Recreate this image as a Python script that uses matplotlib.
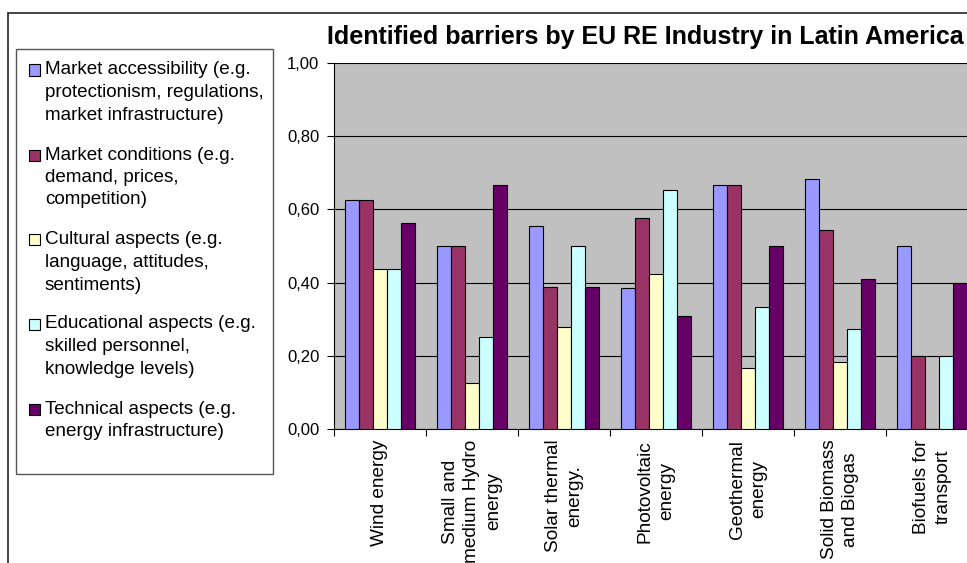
import matplotlib.pyplot as plt
from matplotlib.patches import Rectangle
import numpy as np

plt.rcParams['font.family'] = ['Liberation Sans', 'DejaVu Sans']

categories = ['Wind energy', 'Small and\nmedium Hydro\nenergy', 'Solar thermal\nenergy.',
              'Photovoltaic\nenergy', 'Geothermal\nenergy', 'Solid Biomass\nand Biogas',
              'Biofuels for\ntransport']
series_names = [
    ['Market accessibility (e.g.', 'protectionism, regulations,', 'market infrastructure)'],
    ['Market conditions (e.g.', 'demand, prices,', 'competition)'],
    ['Cultural aspects (e.g.', 'language, attitudes,', 'sentiments)'],
    ['Educational aspects (e.g.', 'skilled personnel,', 'knowledge levels)'],
    ['Technical aspects (e.g.', 'energy infrastructure)'],
]
market_access = [0.625, 0.500, 0.556, 0.385, 0.667, 0.682, 0.500]
market_cond = [0.625, 0.500, 0.389, 0.577, 0.667, 0.545, 0.200]
cultural = [0.4375, 0.125, 0.278, 0.423, 0.167, 0.182, 0.0]
educational = [0.4375, 0.250, 0.500, 0.654, 0.333, 0.273, 0.200]
technical = [0.5625, 0.667, 0.389, 0.308, 0.500, 0.409, 0.400]
yticks = [0.0, 0.2, 0.4, 0.6, 0.8, 1.0]

colors = ['#9999FF', '#993366', '#FFFFCC', '#CCFFFF', '#660066']
values = [market_access, market_cond, cultural, educational, technical]

W, H = 967, 563
fig = plt.figure(figsize=(W / 100, H / 100), dpi=100)

# outer chart border (runs off the right and bottom edge)
fig.patches.append(Rectangle((8 / W, -0.2), 1.2, 1.2 - 13 / H, transform=fig.transFigure,
                             fill=False, edgecolor='#222222', lw=1.2))

ax = fig.add_axes([334 / W, 1 - 428.7 / H, 7 * 92 / W, 365.4 / H])
ax.set_facecolor('#C0C0C0')

x = np.arange(len(categories))
bw = 1 / 6.5
for j, (vals, c) in enumerate(zip(values, colors)):
    ax.bar(x + (j - 2) * bw, vals, width=bw, color=c, edgecolor='black', linewidth=0.8, zorder=3)

ax.set_xlim(-0.5, len(categories) - 0.5)
ax.set_ylim(0, 1.0)
ax.set_yticks(yticks)
ax.set_yticklabels([f'{v:.2f}'.replace('.', ',') for v in yticks], fontsize=12)
ax.yaxis.grid(True, color='black', lw=0.8, zorder=1)
ax.set_axisbelow(True)
ax.tick_params(axis='y', length=5, width=0.8, pad=5.5)

ax.set_xticks(x)
ax.set_xticklabels(categories, rotation=90, ha='center', va='top', multialignment='center',
                   fontsize=13.7, linespacing=1.38)
ax.tick_params(axis='x', which='major', length=0, pad=8)
ax.set_xticks(np.arange(len(categories) + 1) - 0.5, minor=True)
ax.tick_params(axis='x', which='minor', length=5, width=0.8)

for side in ['top', 'right']:
    ax.spines[side].set_visible(False)
ax.spines['left'].set_linewidth(0.8)
ax.spines['bottom'].set_linewidth(0.8)

fig.text(645.5 / W, 1 - 44 / H, 'Identified barriers by EU RE Industry in Latin America',
         ha='center', va='baseline', fontsize=18, fontweight='bold')

# legend box
fig.patches.append(Rectangle((16 / W, 1 - 474 / H), (273 - 16) / W, (474 - 49) / H,
                             transform=fig.transFigure, fill=False, edgecolor='#555555', lw=1))
first_lines = [70, 155, 240, 324, 409]
for lines, c, y0 in zip(series_names, colors, first_lines):
    fig.patches.append(Rectangle((29 / W, 1 - (y0 + 5.5) / H), 11 / W, 11 / H,
                                 transform=fig.transFigure, facecolor=c,
                                 edgecolor='black', lw=0.8))
    for k, line in enumerate(lines):
        fig.text(45 / W, 1 - (y0 + k * 22.5) / H, line, ha='left', va='center', fontsize=13.6)

fig.savefig('out.png', dpi=100)
